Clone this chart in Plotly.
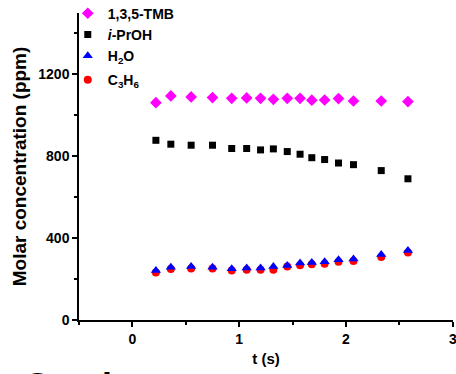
import plotly.graph_objects as go

t = [0.22, 0.36, 0.55, 0.75, 0.93, 1.07, 1.20, 1.32, 1.45, 1.57, 1.68, 1.80, 1.93, 2.07, 2.33, 2.58]
tmb = [1062, 1095, 1090, 1087, 1083, 1085, 1083, 1078, 1083, 1083, 1074, 1075, 1082, 1070, 1070, 1067]
iproh = [878, 859, 854, 854, 838, 838, 831, 836, 823, 810, 793, 784, 767, 759, 730, 690]
h2o = [242, 258, 262, 258, 250, 254, 254, 262, 266, 278, 281, 285, 294, 298, 320, 339]
c3h6 = [232, 249, 252, 252, 242, 245, 245, 245, 262, 268, 273, 275, 285, 288, 308, 330]

FONT = "Liberation Sans, Arial, sans-serif"

fig = go.Figure()
fig.add_trace(go.Scatter(x=t, y=tmb, mode="markers", name="1,3,5-TMB",
                         marker=dict(symbol="diamond", size=9, color="#ff00ff"),
                         legendgroup="a", legendrank=1))
fig.add_trace(go.Scatter(x=t, y=iproh, mode="markers", name="<i>i</i>-PrOH",
                         marker=dict(symbol="square", size=7, color="black"),
                         legendgroup="a", legendrank=2))
fig.add_trace(go.Scatter(x=t, y=c3h6, mode="markers", name="C<sub>3</sub>H<sub>6</sub>",
                         marker=dict(symbol="circle", size=8, color="#ff0000"),
                         legendgroup="b", legendrank=4))
fig.add_trace(go.Scatter(x=t, y=h2o, mode="markers", name="H<sub>2</sub>O",
                         marker=dict(symbol="triangle-up", size=9, color="#0000ff"),
                         legendgroup="a", legendrank=3))

axis_common = dict(showline=True, linecolor="black", linewidth=1.5, ticks="outside",
                   ticklen=5, tickwidth=1.5, tickcolor="black", showgrid=False, zeroline=False,
                   ticklabeloverflow="allow", automargin=False,
                   tickfont=dict(family=FONT, size=14, color="black", weight="bold"))

fig.update_xaxes(range=[-0.5, 3.002], tickvals=[0, 1, 2, 3],
                 minor=dict(dtick=0.5, tick0=0, ticks="outside", ticklen=3, tickwidth=1.5, tickcolor="black"),
                 title=dict(text="t (s)", font=dict(family=FONT, size=15, color="black", weight="bold"), standoff=8),
                 **axis_common)
fig.update_yaxes(range=[0, 1500], tickvals=[0, 400, 800, 1200],
                 minor=dict(dtick=200, tick0=0, ticks="outside", ticklen=3, tickwidth=1.5, tickcolor="black"),
                 title=dict(text="Molar concentration (ppm)", font=dict(family=FONT, size=19, color="black", weight="bold"), standoff=7),
                 **axis_common)

fig.update_layout(
    width=456, height=374,
    margin=dict(l=79, r=3, t=13, b=54, autoexpand=False),
    plot_bgcolor="white", paper_bgcolor="white",
    legend=dict(x=-0.03, xanchor="left", y=1.05, yanchor="top",
                bgcolor="rgba(0,0,0,0)", tracegroupgap=3,
                font=dict(family=FONT, size=14, color="black", weight="bold")),
    showlegend=True,
)
fig.add_annotation(text="Catalyst", xref="paper", yref="paper", x=-0.152, y=-0.143,
                   xanchor="left", yanchor="top", showarrow=False,
                   font=dict(family=FONT, size=36, color="black", weight="bold"))

fig.write_html("out.html")
